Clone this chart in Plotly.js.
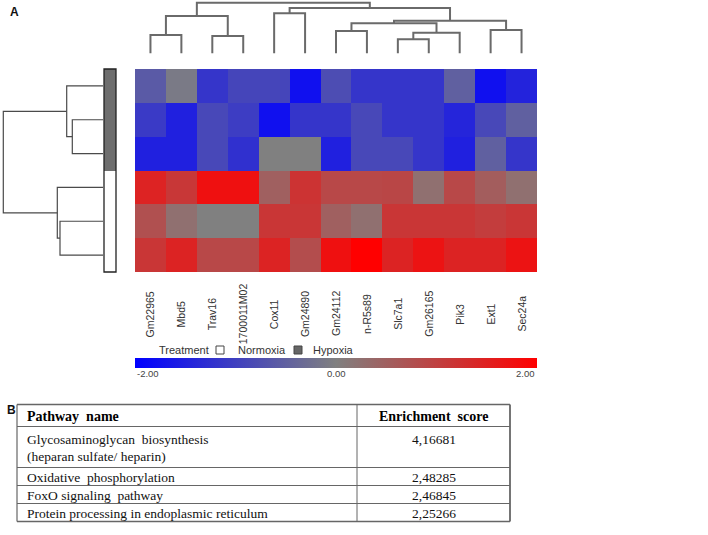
<!DOCTYPE html>
<html>
<head>
<meta charset="utf-8">
<script src="https://cdn.plot.ly/plotly-3.0.1.min.js"></script>
<style>html,body{margin:0;padding:0;background:#fff;}#chart{width:708px;height:535px;}</style>
</head>
<body>
<div id="chart"></div>
<script>
// ---------- data ----------
const genes = ['Gm22965','Mbd5','Trav16','1700011M02','Cox11','Gm24890','Gm24112','n-R5s89','Slc7a1','Gm26165','Pik3','Ext1','Sec24a'];
const treatment = ['Hypoxia','Hypoxia','Hypoxia','Normoxia','Normoxia','Normoxia'];
const hyp1 = [-0.6, -0.1, -1.17, -0.92, -0.92, -1.75, -0.8, -1.17, -1.17, -1.17, -0.5, -1.75, -1.45];
const hyp2 = [-1.1, -1.5, -0.88, -1.05, -1.75, -1.17, -1.17, -0.88, -1.17, -1.17, -1.42, -0.88, -0.5];
const hyp3 = [-1.5, -1.5, -0.88, -1.25, 0.0, 0.0, -1.5, -0.88, -0.88, -1.17, -1.5, -0.5, -1.17];
const nor1 = [1.46, 1.14, 1.75, 1.75, 0.5, 1.2, 0.88, 0.88, 0.9, 0.25, 0.88, 0.55, 0.25];
const nor2 = [0.75, 0.25, 0.0, 0.0, 1.15, 1.15, 0.5, 0.25, 1.15, 1.15, 1.15, 1.05, 1.15];
const nor3 = [1.15, 1.45, 0.88, 0.88, 1.45, 0.8, 1.75, 2.0, 1.45, 1.7, 1.45, 1.45, 1.7];
// column dendrogram merges: [nodeA, nodeB, height]  (leaves 0..12, new nodes from 13)
const colMerges = [[0,1,18.3],[2,3,17.3],[13,14,37.3],[4,5,40],[6,7,22.3],[8,9,14],[18,10,20.6],[17,19,30],[11,12,23.3],[20,21,32.6],[16,22,45.3],[15,23,50.6]];
// row dendrogram merges (leaves 0..5, new nodes from 6)
const rowMerges = [[1,2,30.7],[0,6,36.3],[4,5,43],[3,8,45.7],[7,9,99.7]];
const tableHeader = ['<b>Pathway  name</b>', '<b>Enrichment  score</b>'];
const pathways = ['Glycosaminoglycan  biosynthesis<br>(heparan sulfate/ heparin)','Oxidative  phosphorylation','FoxO signaling  pathway','Protein processing in endoplasmic reticulum'];
const scores = [4.16681, 2.48285, 2.46845, 2.25266];
const cbTicks = [-2, 0, 2];

// ---------- helpers ----------
const W = 708, H = 535;
const px = v => v / W;
const py = v => 1 - v / H;
function dendro(n, merges) {
  const pos = [], hg = [];
  for (let i = 0; i < n; i++) { pos.push(i); hg.push(0); }
  const a = [], b = [];
  merges.forEach(([p, q, h]) => {
    a.push(pos[p], pos[p], pos[q], pos[q], null);
    b.push(hg[p], h, h, hg[q], null);
    pos.push((pos[p] + pos[q]) / 2); hg.push(h);
  });
  return {pos: a, h: b};
}
const rowsIdx = treatment.map((_, i) => i);
const z = [hyp1, hyp2, hyp3, nor1, nor2, nor3];
const colD = dendro(genes.length, colMerges);
const rowD = dendro(treatment.length, rowMerges);

const traces = [
  {
    type: 'heatmap', x: genes, y: rowsIdx, z: z, xaxis: 'x', yaxis: 'y',
    zmin: -2, zmax: 2,
    colorscale: [[0, '#0000ff'], [0.5, '#808080'], [1, '#ff0000']],
    colorbar: {orientation: 'h', x: px(336), xanchor: 'center', y: py(358), yanchor: 'top',
      thickness: 9.5, lenmode: 'pixels', len: 402, showticklabels: false, ticks: '',
      outlinewidth: 0, xpad: 0, ypad: 0},
    hoverinfo: 'skip'
  },
  {
    type: 'heatmap', x: ['T'], y: rowsIdx, z: treatment.map(t => [t === 'Hypoxia' ? 1 : 0]),
    xaxis: 'x4', yaxis: 'y', zmin: 0, zmax: 1, showscale: false,
    colorscale: [[0, '#ffffff'], [1, '#6e6e6e']], hoverinfo: 'skip'
  },
  {
    type: 'scatter', mode: 'lines', x: colD.pos, y: colD.h, xaxis: 'x2', yaxis: 'y2',
    line: {color: '#6a6a6a', width: 2}, hoverinfo: 'skip', showlegend: false
  },
  {
    type: 'scatter', mode: 'lines', x: rowD.h, y: rowD.pos, xaxis: 'x3', yaxis: 'y',
    line: {color: '#4a4a4a', width: 1.2}, hoverinfo: 'skip', showlegend: false
  }
];

const hid = {visible: false, showgrid: false, zeroline: false, fixedrange: true};
const SANS = 'Liberation Sans, Arial, sans-serif';
const SERIF = 'Liberation Serif, Times New Roman, serif';
const annotations = genes.map(g => ({
  x: g, xref: 'x', y: py(314), yref: 'paper', text: g, textangle: -90, showarrow: false,
  xanchor: 'center', yanchor: 'middle', font: {family: SANS, size: 10.5, color: '#333'}
}));
const lab = (text, x, y, xa, size, color, family) => ({text, x: px(x), y: py(y), xref: 'paper', yref: 'paper',
  xanchor: xa, yanchor: 'middle', showarrow: false,
  font: {family: family || SANS, size, color: color || '#333'}});
annotations.push(lab('<b>A</b>', 8, 12, 'left', 12, '#111'));
annotations.push(lab('<b>B</b>', 5, 410, 'left', 12, '#111'));
annotations.push(lab('Treatment', 157, 350, 'left', 11));
annotations.push(lab('Normoxia', 236, 350, 'left', 11));
annotations.push(lab('Hypoxia', 311, 350, 'left', 11));
const cbX = [135, 336, 537], cbA = ['left', 'center', 'right'];
cbTicks.forEach((t, i) => annotations.push(lab(t.toFixed(2), cbX[i], 373, cbA[i], 9.5, '#444')));

const shapes = [
  {type: 'rect', xref: 'x4 domain', yref: 'y domain', x0: 0, x1: 1, y0: 0, y1: 1, line: {color: '#222', width: 1.3}},
  {type: 'rect', xref: 'paper', yref: 'paper', x0: px(216), x1: px(224), y0: py(354), y1: py(346), fillcolor: '#fff', line: {color: '#444', width: 1}},
  {type: 'rect', xref: 'paper', yref: 'paper', x0: px(294), x1: px(302), y0: py(354), y1: py(346), fillcolor: '#666', line: {color: '#444', width: 1}}
];

// ---------- table (panel B) ----------
const tLeft = 17, tMid = 357, tRight = 510, tTop = 404.5, headH = 22, lineH = 16.7, rowPad = 1.3;
const rowHeights = pathways.map(p => p.split('<br>').length === 1 ? 18 : 41);
const tx1 = tLeft + 8, tx2 = (tMid + tRight) / 2;
annotations.push(lab(tableHeader[0], tx1, tTop + headH / 2 + 1, 'left', 14, '#000', SERIF));
annotations.push(lab(tableHeader[1], tx2, tTop + headH / 2 + 1, 'center', 14, '#000', SERIF));
const hLines = [tTop, tTop + headH];
let yTop = tTop + headH;
pathways.forEach((p, i) => {
  const parts = p.split('<br>');
  const h = rowHeights[i];
  const first = yTop + (h - parts.length * lineH) / 2 + lineH / 2 + rowPad;
  parts.forEach((t, j) => annotations.push(lab(t, tx1, first + j * lineH, 'left', 13.5, '#111', SERIF)));
  annotations.push(lab(scores[i].toFixed(5).replace('.', ','), tx2, first, 'center', 13.5, '#111', SERIF));
  yTop += h;
  hLines.push(yTop);
});
hLines.forEach((y, i) => shapes.push({type: 'line', xref: 'paper', yref: 'paper', x0: px(tLeft), x1: px(tRight), y0: py(y), y1: py(y),
  line: {color: '#666', width: (i === 0 || i === hLines.length - 1) ? 1.4 : 1}}));
[[tLeft, 1.2], [tMid, 1], [tRight, 1.8]].forEach(([x, w]) => shapes.push({type: 'line', xref: 'paper', yref: 'paper',
  x0: px(x), x1: px(x), y0: py(tTop), y1: py(yTop), line: {color: '#666', width: w}}));

const layout = {
  width: W, height: H, margin: {l: 0, r: 0, t: 0, b: 0},
  paper_bgcolor: '#fff', plot_bgcolor: 'rgba(0,0,0,0)', showlegend: false,
  xaxis: Object.assign({}, hid, {domain: [px(135), px(537)], type: 'category', anchor: 'y'}),
  yaxis: Object.assign({}, hid, {domain: [py(272), py(69)], range: [5.5, -0.5], anchor: 'x'}),
  xaxis2: Object.assign({}, hid, {domain: [px(135), px(537)], range: [-0.5, 12.5], anchor: 'y2'}),
  yaxis2: Object.assign({}, hid, {domain: [py(55), 1], range: [-1.7, 53.3], anchor: 'x2'}),
  xaxis3: Object.assign({}, hid, {domain: [px(1), px(104)], range: [102, -1], anchor: 'y'}),
  xaxis4: Object.assign({}, hid, {domain: [px(104), px(116)], anchor: 'y'}),
  annotations, shapes
};
Plotly.newPlot('chart', traces, layout, {staticPlot: true, displayModeBar: false});
</script>
</body>
</html>
